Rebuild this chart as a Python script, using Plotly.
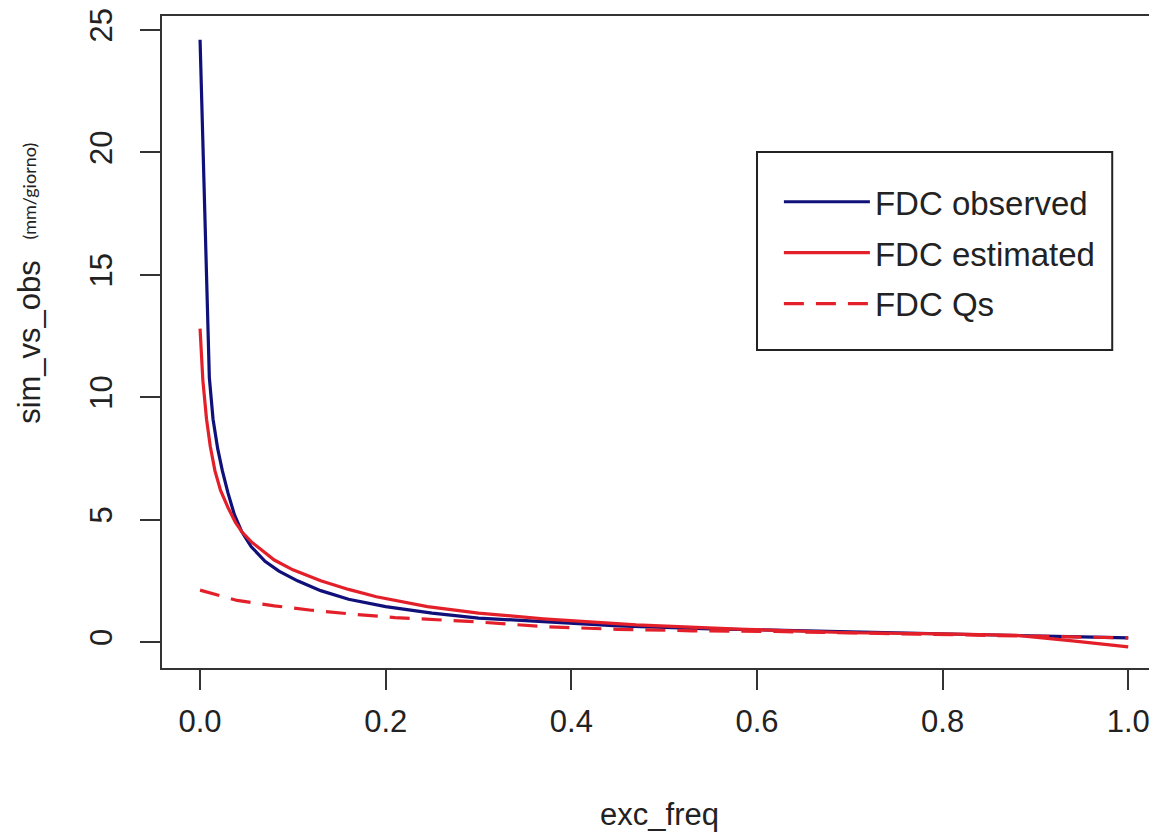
import plotly.graph_objects as go

# ---- data ----
obs_x = [0, 0.01, 0.014, 0.019, 0.024, 0.03, 0.037, 0.045, 0.055, 0.07, 0.085, 0.105,
         0.13, 0.16, 0.2, 0.25, 0.3, 0.37, 0.45, 0.55, 0.65, 0.75, 0.85, 0.95, 1.0]
obs_y = [24.6, 10.8, 9.1, 7.9, 7.0, 6.1, 5.2, 4.5, 3.9, 3.3, 2.9, 2.5,
         2.1, 1.75, 1.45, 1.18, 0.98, 0.82, 0.66, 0.54, 0.45, 0.38, 0.29, 0.21, 0.17]

est_x = [0, 0.003, 0.007, 0.011, 0.016, 0.022, 0.03, 0.038, 0.045, 0.055, 0.065, 0.08,
         0.1, 0.13, 0.16, 0.19, 0.245, 0.3, 0.37, 0.47, 0.58, 0.7, 0.8, 0.88, 0.94, 1.0]
est_y = [12.8, 10.7, 9.1, 8.0, 7.0, 6.2, 5.5, 4.9, 4.5, 4.1, 3.8, 3.35,
         2.95, 2.5, 2.15, 1.85, 1.45, 1.18, 0.95, 0.7, 0.53, 0.38, 0.33, 0.27, 0.05, -0.2]

qs_x = [0, 0.04, 0.08, 0.12, 0.17, 0.21, 0.3, 0.37, 0.45, 0.53, 0.62, 0.7, 0.8, 0.9, 1.0]
qs_y = [2.12, 1.7, 1.48, 1.3, 1.12, 1.0, 0.82, 0.63, 0.52, 0.46, 0.43, 0.38, 0.32, 0.24, 0.17]

x_ticks = [0.0, 0.2, 0.4, 0.6, 0.8, 1.0]
x_ticklabels = ["0.0", "0.2", "0.4", "0.6", "0.8", "1.0"]
y_ticks = [0, 5, 10, 15, 20, 25]
y_ticklabels = ["0", "5", "10", "15", "20", "25"]

series_names = ["FDC observed", "FDC estimated", "FDC Qs"]

NAVY = "#10107a"
RED = "#e3202a"
FONT = "Liberation Sans, Arial, sans-serif"
AXC = "#333333"
TXT = "#222222"

fig = go.Figure()
fig.add_trace(go.Scatter(x=obs_x, y=obs_y, mode="lines", name=series_names[0],
                         line=dict(color=NAVY, width=3.2), legendgroup="a"))
fig.add_trace(go.Scatter(x=est_x, y=est_y, mode="lines", name=series_names[1],
                         line=dict(color=RED, width=3.2), legendgroup="b"))
fig.add_trace(go.Scatter(x=qs_x, y=qs_y, mode="lines", name=series_names[2],
                         line=dict(color=RED, width=3.2, dash="20px,12px"), legendgroup="c"))

fig.update_layout(
    width=1149, height=824,
    margin=dict(l=154, r=0, t=8, b=164),
    paper_bgcolor="white", plot_bgcolor="white",
    font=dict(family=FONT, size=31, color=TXT),
    showlegend=True,
    legend=dict(
        x=0.620, y=0.758, xanchor="left", yanchor="top",
        borderwidth=0, bgcolor="rgba(0,0,0,0)",
        font=dict(family=FONT, size=33, color=TXT),
        itemwidth=86, tracegroupgap=5, traceorder="grouped",
    ),
    shapes=[dict(
        type="rect", xref="paper", yref="paper",
        x0=0.598, x1=0.955, y0=0.4877, y1=0.7914,
        line=dict(color=TXT, width=2), fillcolor="rgba(0,0,0,0)", layer="above",
    )],
    xaxis=dict(
        range=[-0.041, 1.031], tickvals=x_ticks, ticktext=x_ticklabels,
        showgrid=False, zeroline=False,
        showline=True, linecolor=AXC, linewidth=2, mirror=True,
        ticks="outside", ticklen=20, tickwidth=1.5, tickcolor=AXC,
        ticklabelstandoff=5,
        tickfont=dict(family=FONT, size=31, color=TXT),
        title=dict(text="exc_freq", font=dict(family=FONT, size=31, color=TXT), standoff=67),
    ),
    yaxis=dict(
        range=[-1.06, 25.57], tickvals=y_ticks, ticktext=y_ticklabels,
        showgrid=False, zeroline=False,
        showline=True, linecolor=AXC, linewidth=2, mirror=False,
        ticks="outside", ticklen=20, tickwidth=1.5, tickcolor=AXC, tickangle=-90,
        ticklabelstandoff=16,
        tickfont=dict(family=FONT, size=31, color=TXT),
        title=dict(text="sim_vs_obs", font=dict(family=FONT, size=31, color=TXT), standoff=34),
    ),
    annotations=[dict(
        text="(mm/giorno)", xref="paper", yref="paper",
        x=-0.134, y=0.732, xanchor="center", yanchor="middle",
        textangle=-90, showarrow=False,
        font=dict(family="Lato, Open Sans, sans-serif", size=18, color=TXT),
    )],
)

fig.write_html("out.html")
